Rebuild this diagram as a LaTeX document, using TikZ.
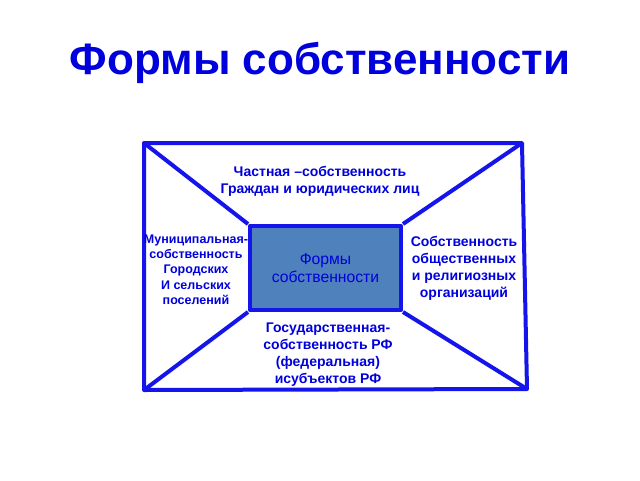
\documentclass[tikz,border=0pt]{standalone}
\usepackage{fontspec}
\setmainfont{Liberation Sans}
\usepackage{xcolor}
\usepackage{tikz}

\definecolor{frameblue}{RGB}{20,20,235}
\definecolor{textblue}{RGB}{0,0,220}
\definecolor{corefill}{RGB}{79,129,189}

\tikzset{
  frame/.style={draw=frameblue, line width=4pt, line join=round},
  caption/.style={text=textblue, font=\bfseries\fontsize{14}{17}\selectfont, align=center, inner sep=0pt},
  heading/.style={text=textblue, font=\bfseries\fontsize{44}{52}\selectfont, inner sep=0pt},
  core/.style={frame, fill=corefill, text=textblue, font=\fontsize{15.7}{18}\selectfont, align=center,
    minimum width=151pt, minimum height=84pt, inner sep=0pt}
}

\begin{document}
\begin{tikzpicture}[x=1pt,y=-1pt]
\useasboundingbox (0,0) rectangle (640,480);
\node[heading] (title) at (320,63) {Формы собственности};
% outer frame
\coordinate (tl) at (144,143);
\coordinate (tr) at (522,143);
\coordinate (br) at (527,389);
\coordinate (bl) at (144,390);
\draw[frame] (tl) -- (tr) -- (br) -- (bl) -- cycle;
% centre box and diagonals
\node[core] (forms) at (325.5,268) {Формы\\собственности};
\draw[frame] (tl) -- (forms.north west);
\draw[frame] (tr) -- (forms.north east);
\draw[frame] (br) -- (forms.south east);
\draw[frame] (bl) -- (forms.south west);
% the four kinds
\node[caption] (private) at (320,181.5) {Частная –собственность\\Граждан и юридических лиц};
\node[caption, font=\bfseries\fontsize{12.5}{15.3}\selectfont] (municipal) at (196,269.5) {Муниципальная-\\собственность\\Городских\\И сельских\\поселений};
\node[caption] (public) at (464,268.5) {Собственность\\общественных\\и религиозных\\организаций};
\node[caption] (state) at (328,354.5) {Государственная-\\собственность РФ\\(федеральная)\\исубъектов РФ};
\end{tikzpicture}
\end{document}
